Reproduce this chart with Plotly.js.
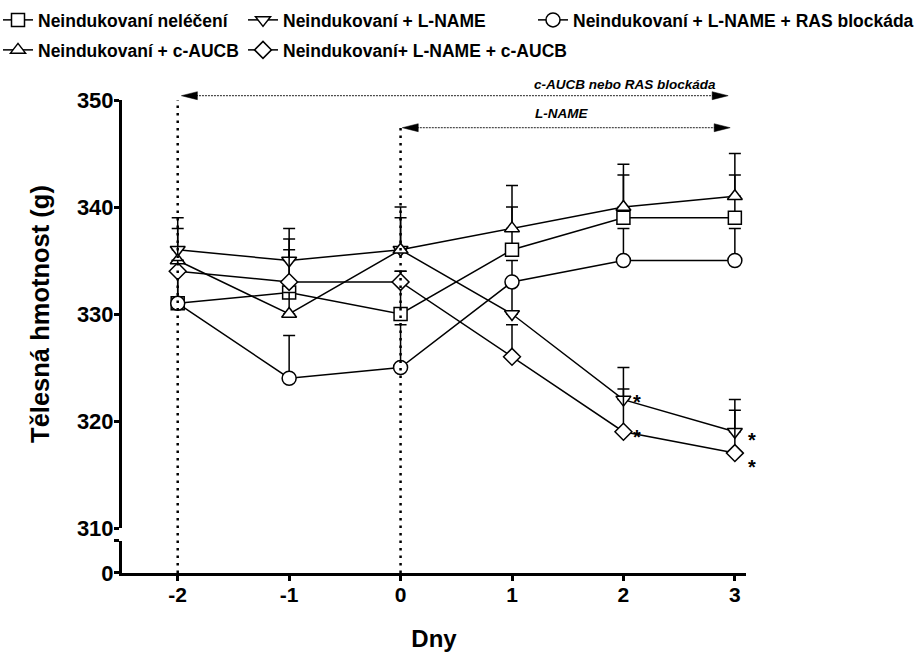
<!DOCTYPE html>
<html><head><meta charset="utf-8">
<script src="https://cdn.plot.ly/plotly-3.0.1.min.js"></script>
<style>html,body{margin:0;padding:0;background:#fff;} #chart{width:918px;height:655px;}</style>
</head><body><div id="chart"></div>
<script>
const FONT = 'Liberation Sans, Arial, Helvetica, sans-serif';

// ---- data ----
const days = [-2, -1, 0, 1, 2, 3];
const xTicks = [-2, -1, 0, 1, 2, 3];
const yTicks = [310, 320, 330, 340, 350];

const nameNelec = 'Neindukovaní neléčení';
const nelecMean = [331, 332, 330, 336, 339, 339];
const nelecErr  = [4, 5, 4, 4, 4, 4];

const nameLname = 'Neindukovaní + L-NAME';
const lnameMean = [336, 335, 336, 330, 322, 319];
const lnameErr  = [3, 3, 4, 3, 3, 3];

const nameRas = 'Neindukovaní + L-NAME + RAS blockáda';
const rasMean = [331, 324, 325, 333, 335, 335];
const rasErr  = [3, 4, 4, 2, 3, 3];

const nameAucb = 'Neindukovaní + c-AUCB';
const aucbMean = [335, 330, 336, 338, 340, 341];
const aucbErr  = [3, 2, 3, 4, 4, 4];

const nameLnameAucb = 'Neindukovaní+ L-NAME + c-AUCB';
const lnameAucbMean = [334, 333, 333, 326, 319, 317];
const lnameAucbErr  = [1, 3, 1, 3, 4, 4];

// significant points (index into days) for the L-NAME groups
const sigIdx = [4, 5];

// treatment periods
const periodAucbStart = -2, periodAucbEnd = 3;
const periodLnameStart = 0, periodLnameEnd = 3;
const periodAucbLabel = 'c-AUCB nebo RAS blockáda';
const periodLnameLabel = 'L-NAME';

// ---- traces ----
function series(name, y, err, symbol, size, legend) {
  return {
    type: 'scatter', mode: 'lines+markers', x: days, y: y, name: name, legend: legend,
    line: {color: '#000', width: 1.5},
    marker: {symbol: symbol, size: size, color: '#fff', line: {color: '#000', width: 1.5}},
    error_y: {type: 'data', symmetric: false, array: err, arrayminus: err.map(() => 0),
              color: '#000', thickness: 1.5, width: 6},
    cliponaxis: false, xaxis: 'x', yaxis: 'y'
  };
}

const traces = [
  series(nameNelec, nelecMean, nelecErr, 'square', 13, 'legend'),
  series(nameLname, lnameMean, lnameErr, 'triangle-down', 13, 'legend2'),
  series(nameRas, rasMean, rasErr, 'circle', 14, 'legend3'),
  series(nameAucb, aucbMean, aucbErr, 'triangle-up', 13, 'legend4'),
  series(nameLnameAucb, lnameAucbMean, lnameAucbErr, 'diamond', 13, 'legend5'),
  // helper trace so that the lower (broken) axis segment exists
  {type: 'scatter', mode: 'none', x: days, y: days.map(() => null), xaxis: 'x', yaxis: 'y2',
   showlegend: false, hoverinfo: 'skip'}
];

// ---- layout helpers ----
const W = 918, H = 655;
const ML = 122, MR = 172, MT = 100, MB = 82;
const PW = W - ML - MR, PH = H - MT - MB;
const legFont = {family: FONT, size: 17.5, color: '#000', weight: 'bold'};
function leg(px, py) {
  return {orientation: 'v', xref: 'paper', yref: 'paper', x: (px - ML) / PW, y: (H - MB - py) / PH,
          xanchor: 'left', yanchor: 'middle', bgcolor: 'rgba(0,0,0,0)', borderwidth: 0,
          font: legFont, itemwidth: 30};
}

const arrowYTop = 1.0091, arrowYL = 0.9414;
const tipAucbL = -1.967, tipAucbR = 2.94, tipLnameL = 0.015, tipLnameR = 2.958;
const shapes = [
  {type: 'line', xref: 'x', yref: 'paper', x0: periodAucbStart, x1: periodAucbStart, y0: 0, y1: 1,
   line: {color: '#000', width: 2.5, dash: '2.5px,5px'}},
  {type: 'line', xref: 'x', yref: 'paper', x0: periodLnameStart, x1: periodLnameStart, y0: 0, y1: arrowYL,
   line: {color: '#000', width: 2.5, dash: '2.5px,5px'}},
  {type: 'line', xref: 'x', yref: 'paper', x0: tipAucbL + 0.05, x1: tipAucbR - 0.05, y0: arrowYTop, y1: arrowYTop,
   line: {color: '#222', width: 1, dash: '2px,1px'}},
  {type: 'line', xref: 'x', yref: 'paper', x0: tipLnameL + 0.05, x1: tipLnameR - 0.05, y0: arrowYL, y1: arrowYL,
   line: {color: '#222', width: 1, dash: '2px,1px'}}
];
function head(xa, ya, dir) {
  const p = dir < 0 ? 'M0,0L16,4L16,-4Z' : 'M0,0L-16,4L-16,-4Z';
  return {type: 'path', xref: 'x', yref: 'paper', xsizemode: 'pixel', ysizemode: 'pixel',
          xanchor: xa, yanchor: ya, path: p, fillcolor: '#000', line: {color: '#000', width: 0.5}};
}
shapes.push(head(tipAucbL, arrowYTop, -1));
shapes.push(head(tipAucbR, arrowYTop, 1));
shapes.push(head(tipLnameL, arrowYL, -1));
shapes.push(head(tipLnameR, arrowYL, 1));

const annotations = [
  {xref: 'x', yref: 'paper', x: 2.015, y: 1.0338, yanchor: 'middle', xanchor: 'center',
   text: periodAucbLabel, showarrow: false,
   font: {family: FONT, size: 13.5, color: '#000', weight: 'bold', style: 'italic'}},
  {xref: 'x', yref: 'paper', x: 1.44, y: 0.9725, yanchor: 'middle', xanchor: 'center',
   text: periodLnameLabel, showarrow: false,
   font: {family: FONT, size: 13.5, color: '#000', weight: 'bold', style: 'italic'}}
];

const starShift = {2: [14, -2, -5], 3: [17, -8, -14]};
sigIdx.forEach(i => {
  const d = days[i];
  const s = starShift[d];
  annotations.push({xref: 'x', yref: 'y', x: d, y: lnameMean[i], text: '*', showarrow: false,
    xshift: s[0], yshift: s[1], font: {family: FONT, size: 20, color: '#000', weight: 'bold'}});
  annotations.push({xref: 'x', yref: 'y', x: d, y: lnameAucbMean[i], text: '*', showarrow: false,
    xshift: s[0], yshift: s[2], font: {family: FONT, size: 20, color: '#000', weight: 'bold'}});
});

const tickFont = {family: FONT, size: 21, color: '#000', weight: 'bold'};
const yTickFont = {family: FONT, size: 22, color: '#000', weight: 'bold'};
const layout = {
  width: W, height: H,
  margin: {l: ML, r: MR, t: MT, b: MB, autoexpand: false},
  paper_bgcolor: '#fff', plot_bgcolor: '#fff',
  font: {family: FONT, color: '#000'},
  legend: leg(-2, 20), legend2: leg(243, 20), legend3: leg(533, 20),
  legend4: leg(-2, 50), legend5: leg(243, 50),
  xaxis: {
    range: [-2.5, 3.1], tickvals: xTicks, ticktext: xTicks.map(String), anchor: 'y2',
    showline: true, linecolor: '#000', linewidth: 3, ticks: 'outside', ticklen: 5, tickwidth: 3,
    tickcolor: '#000', showgrid: false, zeroline: false, tickfont: tickFont, ticklabelstandoff: -4,
    title: {text: 'Dny', font: {family: FONT, size: 24, color: '#000', weight: 'bold'}, standoff: 25}
  },
  yaxis: {
    domain: [0.0951, 1], range: [310, 350], tickvals: yTicks, anchor: 'x',
    showline: true, linecolor: '#000', linewidth: 3, ticks: 'outside', ticklen: 5, tickwidth: 3,
    tickcolor: '#000', showgrid: false, zeroline: false, tickfont: yTickFont, ticklabelstandoff: -4,
    title: {text: 'Tělesná hmotnost (g)', font: {family: FONT, size: 25.5, color: '#000', weight: 'bold'}, standoff: 20}
  },
  yaxis2: {
    domain: [0, 0.0677], range: [0, 1], tickvals: [0, 1], ticktext: ['0', ''], anchor: 'x',
    showline: true, linecolor: '#000', linewidth: 3, ticks: 'outside', ticklen: 5, tickwidth: 3,
    tickcolor: '#000', showgrid: false, zeroline: false, tickfont: yTickFont, ticklabelstandoff: -4
  },
  shapes: shapes,
  annotations: annotations,
  showlegend: true
};

Plotly.newPlot('chart', traces, layout, {displayModeBar: false, staticPlot: true});
</script>
</body></html>
